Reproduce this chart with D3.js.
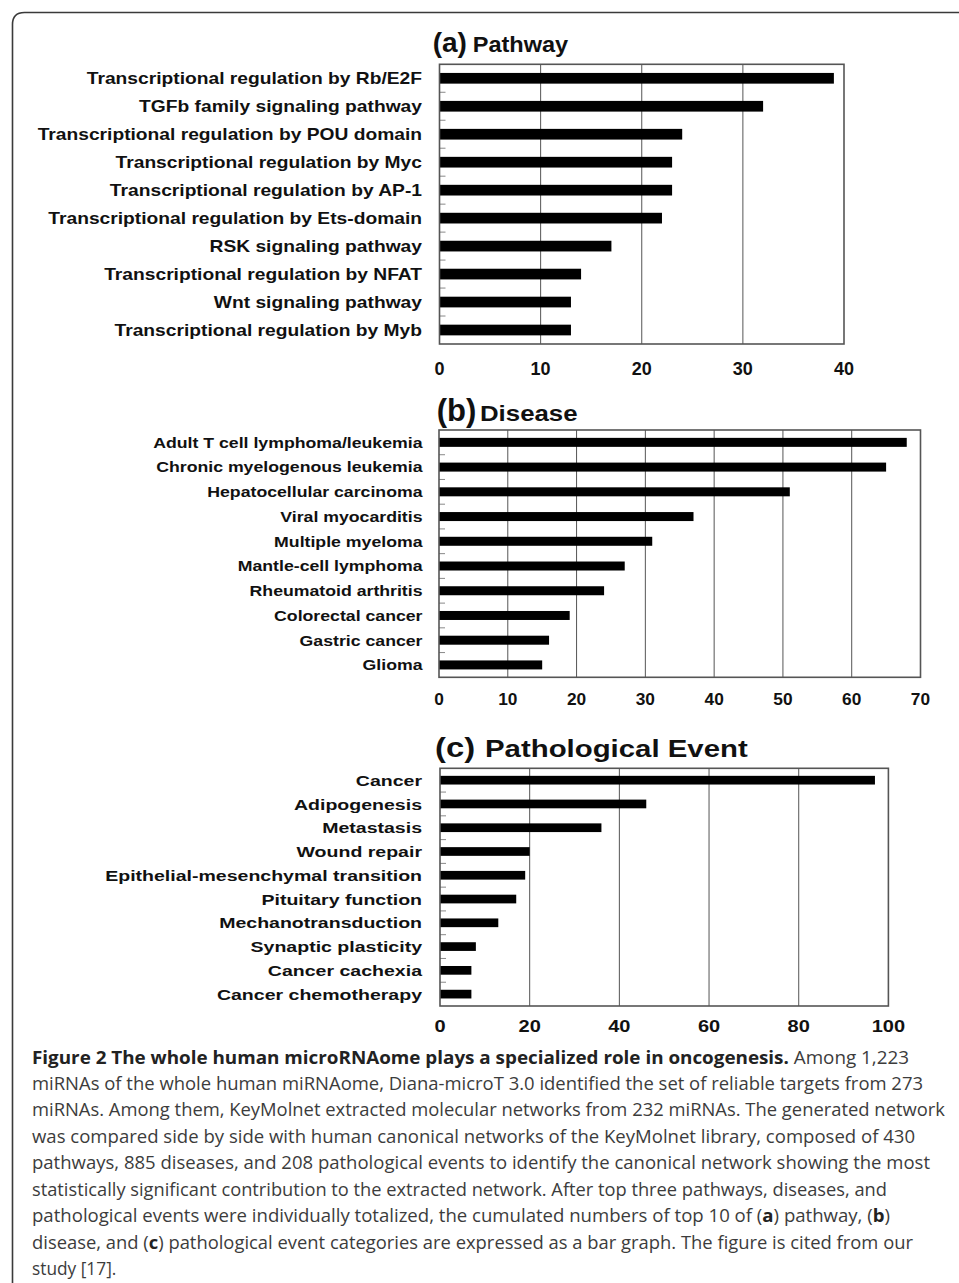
<!DOCTYPE html>
<html>
<head>
<meta charset="utf-8">
<script src="https://cdn.jsdelivr.net/npm/d3@7"></script>
<style>
  html, body { margin: 0; padding: 0; background: #fff; }
  svg { display: block; }
</style>
</head>
<body>
<svg id="chart" width="959" height="1283"></svg>
<script>
// ---------------- DATA ----------------
const pathwayCategories = [
  "Transcriptional regulation by Rb/E2F",
  "TGFb family signaling pathway",
  "Transcriptional regulation by POU domain",
  "Transcriptional regulation by Myc",
  "Transcriptional regulation by AP-1",
  "Transcriptional regulation by Ets-domain",
  "RSK signaling pathway",
  "Transcriptional regulation by NFAT",
  "Wnt signaling pathway",
  "Transcriptional regulation by Myb"
];
const pathwayValues = [39, 32, 24, 23, 23, 22, 17, 14, 13, 13];
const pathwayTicks = [0, 10, 20, 30, 40];

const diseaseCategories = [
  "Adult T cell lymphoma/leukemia",
  "Chronic myelogenous leukemia",
  "Hepatocellular carcinoma",
  "Viral myocarditis",
  "Multiple myeloma",
  "Mantle-cell lymphoma",
  "Rheumatoid arthritis",
  "Colorectal cancer",
  "Gastric cancer",
  "Glioma"
];
const diseaseValues = [68, 65, 51, 37, 31, 27, 24, 19, 16, 15];
const diseaseTicks = [0, 10, 20, 30, 40, 50, 60, 70];

const eventCategories = [
  "Cancer",
  "Adipogenesis",
  "Metastasis",
  "Wound repair",
  "Epithelial-mesenchymal transition",
  "Pituitary function",
  "Mechanotransduction",
  "Synaptic plasticity",
  "Cancer cachexia",
  "Cancer chemotherapy"
];
const eventValues = [97, 46, 36, 20, 19, 17, 13, 8, 7, 7];
const eventTicks = [0, 20, 40, 60, 80, 100];

const panelLetters = ["(a)", "(b)", "(c)"];
const panelTitles = ["Pathway", "Disease", "Pathological Event"];

const captionLines = [
  [["Figure 2 The whole human microRNAome plays a specialized role in oncogenesis.", true], [" Among 1,223", false]],
  [["miRNAs of the whole human miRNAome, Diana-microT 3.0 identified the set of reliable targets from 273", false]],
  [["miRNAs. Among them, KeyMolnet extracted molecular networks from 232 miRNAs. The generated network", false]],
  [["was compared side by side with human canonical networks of the KeyMolnet library, composed of 430", false]],
  [["pathways, 885 diseases, and 208 pathological events to identify the canonical network showing the most", false]],
  [["statistically significant contribution to the extracted network. After top three pathways, diseases, and", false]],
  [["pathological events were individually totalized, the cumulated numbers of top 10 of (", false], ["a", true], [") pathway, (", false], ["b", true], [")", false]],
  [["disease, and (", false], ["c", true], [") pathological event categories are expressed as a bar graph. The figure is cited from our", false]],
  [["study [17].", false]]
];

// ---------------- LAYOUT ----------------
const panels = [
  { cats: pathwayCategories, vals: pathwayValues, ticks: pathwayTicks,
    x0: 439.5, x1: 844, y0: 64.3, y1: 344, barH: 10.7, labelRight: 422,
    labelFont: 16.5, labelSx: 1.165, tickFont: 18, tickSx: 1.0, tickBase: 375,
    letterX: 432.7, titleX: 472.7, titleBase: 52, letterFont: 28, letterSx: 1.0, titleFont: 22, titleSx: 1.07 },
  { cats: diseaseCategories, vals: diseaseValues, ticks: diseaseTicks,
    x0: 439, x1: 920.5, y0: 430, y1: 677.3, barH: 9, labelRight: 422.5,
    labelFont: 15, labelSx: 1.18, tickFont: 16.5, tickSx: 1.05, tickBase: 705,
    letterX: 436.7, titleX: 480, titleBase: 421, letterFont: 31, letterSx: 1.0, titleFont: 21.5, titleSx: 1.2 },
  { cats: eventCategories, vals: eventValues, ticks: eventTicks,
    x0: 440, x1: 888.4, y0: 768.3, y1: 1006, barH: 8.7, labelRight: 422,
    labelFont: 15.5, labelSx: 1.26, tickFont: 16, tickSx: 1.25, tickBase: 1031.7,
    letterX: 435, titleX: 485, titleBase: 757, letterFont: 28.5, letterSx: 1.15, titleFont: 23.5, titleSx: 1.25 }
];

const FONT = "'Liberation Sans', Arial, Helvetica, sans-serif";
const svg = d3.select("#chart");

// outer frame (rounded top-left corner)
svg.append("path")
  .attr("d", "M12.5,1290 L12.5,24.5 Q12.5,12.5 24.5,12.5 L970,12.5")
  .attr("fill", "none").attr("stroke", "#3a3a3a").attr("stroke-width", 1.6);

panels.forEach((p, i) => {
  const g = svg.append("g");
  const x = d3.scaleLinear().domain([p.ticks[0], p.ticks[p.ticks.length - 1]]).range([p.x0, p.x1]);
  const y = d3.scaleBand().domain(p.cats).range([p.y0, p.y1]).paddingInner(0).paddingOuter(0);
  const bw = y.bandwidth();

  // grid lines
  g.selectAll("line.grid").data(p.ticks.slice(1, -1)).enter().append("line")
    .attr("class", "grid")
    .attr("x1", d => x(d)).attr("x2", d => x(d))
    .attr("y1", p.y0).attr("y2", p.y1)
    .attr("stroke", "#555").attr("stroke-width", 1);

  // minor ticks on left axis at band boundaries
  g.selectAll("line.minor").data(p.cats.slice(1)).enter().append("line")
    .attr("class", "minor")
    .attr("x1", p.x0).attr("x2", p.x0 + 6)
    .attr("y1", d => y(d)).attr("y2", d => y(d))
    .attr("stroke", "#888").attr("stroke-width", 1);

  // bars
  g.selectAll("rect.bar").data(p.vals).enter().append("rect")
    .attr("class", "bar")
    .attr("x", x(0))
    .attr("y", (d, j) => y(p.cats[j]) + bw / 2 - p.barH / 2)
    .attr("width", d => x(d) - x(0))
    .attr("height", p.barH)
    .attr("fill", "#000");

  // frame
  g.append("rect")
    .attr("x", p.x0).attr("y", p.y0)
    .attr("width", p.x1 - p.x0).attr("height", p.y1 - p.y0)
    .attr("fill", "none").attr("stroke", "#555").attr("stroke-width", 1.6);

  // category labels
  g.selectAll("text.cat").data(p.cats).enter().append("text")
    .attr("class", "cat")
    .attr("transform", d => `translate(${p.labelRight},${y(d) + bw / 2}) scale(${p.labelSx},1)`)
    .attr("text-anchor", "end")
    .attr("dy", "0.36em")
    .attr("font-family", FONT).attr("font-weight", "bold")
    .attr("font-size", p.labelFont).attr("fill", "#111")
    .text(d => d);

  // tick labels
  g.selectAll("text.tick").data(p.ticks).enter().append("text")
    .attr("class", "tick")
    .attr("transform", d => `translate(${x(d)},${p.tickBase}) scale(${p.tickSx},1)`)
    .attr("text-anchor", "middle")
    .attr("font-family", FONT).attr("font-weight", "bold")
    .attr("font-size", p.tickFont).attr("fill", "#111")
    .text(d => d);

  // title
  g.append("text")
    .attr("transform", `translate(${p.letterX},${p.titleBase}) scale(${p.letterSx},1)`)
    .attr("font-family", FONT).attr("font-weight", "bold")
    .attr("font-size", p.letterFont).attr("fill", "#111")
    .text(panelLetters[i]);
  g.append("text")
    .attr("transform", `translate(${p.titleX},${p.titleBase}) scale(${p.titleSx},1)`)
    .attr("font-family", FONT).attr("font-weight", "bold")
    .attr("font-size", p.titleFont).attr("fill", "#111")
    .text(panelTitles[i]);
});

// caption
const capX = 32, capBase0 = 1063.5, capStep = 26.45;
const capWidths = [877, 891, 913, 883, 898, 855, 858, 881, null];
captionLines.forEach((segs, k) => {
  const t = svg.append("text")
    .attr("x", capX).attr("y", capBase0 + k * capStep)
    .attr("font-family", "'Open Sans', 'Noto Sans', sans-serif")
    .attr("font-size", 17.3).attr("fill", "#3c3c3c");
  segs.forEach(([s, b]) => {
    t.append("tspan").attr("font-weight", b ? "bold" : "normal")
      .attr("fill", b ? "#222" : "#3c3c3c").text(s);
  });
  if (capWidths[k]) {
    t.attr("textLength", capWidths[k]).attr("lengthAdjust", "spacingAndGlyphs");
  }
});
</script>
</body>
</html>
